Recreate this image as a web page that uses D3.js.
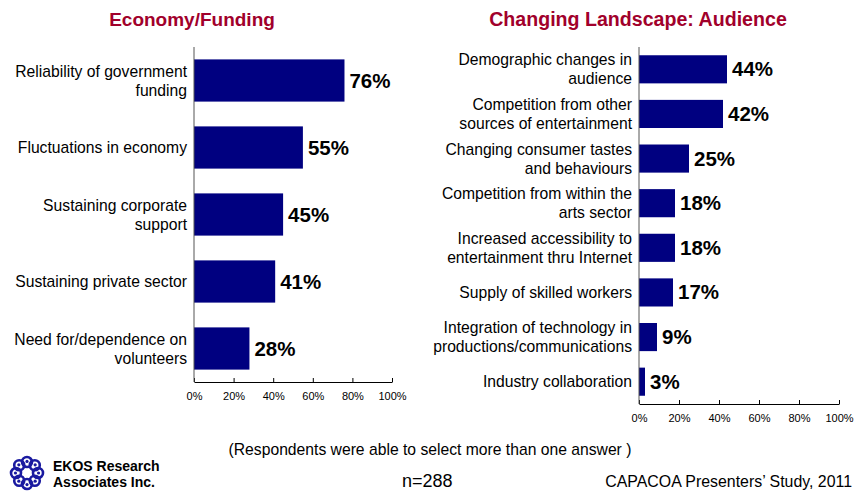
<!DOCTYPE html>
<meta charset="utf-8">
<style>
  html, body { margin:0; padding:0; overflow:hidden; background:#fff }
  text { font-family: "Liberation Sans", Arial, sans-serif; }
</style>
<svg id="mainsvg" width="854" height="492"></svg>
<script src="https://cdn.jsdelivr.net/npm/d3@7"></script>
<script>

// left panel
var econCats = ["Reliability of government|funding", "Fluctuations in economy", "Sustaining corporate|support", "Sustaining private sector", "Need for/dependence on|volunteers"];
var econVals = [76, 55, 45, 41, 28];

// right panel
var audCats = ["Demographic changes in|audience", "Competition from other|sources of entertainment", "Changing consumer tastes|and behaviours", "Competition from within the|arts sector", "Increased accessibility to|entertainment thru Internet", "Supply of skilled workers", "Integration of technology in|productions/communications", "Industry collaboration"];
var audVals = [44, 42, 25, 18, 18, 17, 9, 3];

var tickVals = [0, 20, 40, 60, 80, 100];

var svg = d3.select("#mainsvg");

function drawPanel(title, titleX, titleSize, cats, vals, x0, x1, y0, y1) {
    var x = d3.scaleLinear().domain([0, 100]).range([x0, x1]);
    var y = d3.scaleBand().domain(cats).range([y0, y1]).paddingInner(0.37).paddingOuter(0.185);

    var g = svg.append("g");

    g.append("text")
        .attr("x", titleX).attr("y", 26)
        .attr("text-anchor", "middle")
        .style("font-size", titleSize).style("font-weight", "bold")
        .attr("fill", "#a1002b")
        .text(title);

    g.selectAll("rect.bar").data(vals).enter().append("rect")
        .attr("class", "bar")
        .attr("x", x(0))
        .attr("y", function(d, i) { return y(cats[i]); })
        .attr("width", function(d) { return x(d) - x(0); })
        .attr("height", y.bandwidth())
        .attr("fill", "#000080");

    g.selectAll("text.val").data(vals).enter().append("text")
        .attr("class", "val")
        .attr("x", function(d) { return x(d) + 5; })
        .attr("y", function(d, i) { return y(cats[i]) + y.bandwidth() / 2 + 7; })
        .style("font-size", "20.5px").style("font-weight", "bold")
        .attr("fill", "#000")
        .text(function(d) { return d + "%"; });

    // category labels, split on |
    cats.forEach(function(c) {
        var lines = c.split("|");
        var cy = y(c) + y.bandwidth() / 2;
        var t = g.append("text")
            .attr("text-anchor", "end")
            .style("font-size", "15.7px")
            .attr("fill", "#000");
        lines.forEach(function(l, k) {
            t.append("tspan")
                .attr("x", x0 - 7)
                .attr("y", cy + 5.5 + (k - (lines.length - 1) / 2) * 19)
                .text(l);
        });
    });

    // axes
    var ax = g.append("g")
        .attr("transform", "translate(0," + y1 + ")")
        .call(d3.axisBottom(x).tickValues(tickVals).tickFormat(function(d) { return d + "%"; })
              .tickSize(-4).tickSizeOuter(0).tickPadding(10));
    ax.select(".domain").attr("stroke", "#000");
    ax.selectAll(".tick line").attr("stroke", "#000");
    ax.selectAll(".tick text").style("font-size", "11px").attr("fill", "#000")
        .style("font-family", "Liberation Sans, Arial, sans-serif");

    g.append("line")
        .attr("x1", x0).attr("x2", x0)
        .attr("y1", y0).attr("y2", y1)
        .attr("stroke", "#555").attr("stroke-width", 1);
}

drawPanel("Economy/Funding", 192, "19px", econCats, econVals, 194, 392, 47, 382);
drawPanel("Changing Landscape: Audience", 638, "19.6px", audCats, audVals, 639, 839, 47, 404);

// footer
svg.append("text").attr("x", 430).attr("y", 455).attr("text-anchor", "middle")
    .style("font-size", "15.7px").text("(Respondents were able to select more than one answer )");
svg.append("text").attr("x", 402).attr("y", 487)
    .style("font-size", "18px").text("n=288");
svg.append("text").attr("x", 852).attr("y", 487).attr("text-anchor", "end")
    .style("font-size", "15.9px").text("CAPACOA Presenters\u2019 Study, 2011");

// logo
var logo = svg.append("g").attr("transform", "translate(27,473)");
d3.range(8).forEach(function(i) {
    var a = i * Math.PI / 4;
    var cx = Math.cos(a) * 11, cy = Math.sin(a) * 11;
    logo.append("circle").attr("cx", cx).attr("cy", cy).attr("r", 5)
        .attr("fill", "none").attr("stroke", "#1a1aa0").attr("stroke-width", 2.6);
    logo.append("circle").attr("cx", cx * 1.05).attr("cy", cy * 1.05).attr("r", 1.6)
        .attr("fill", "#1a1aa0");
});
svg.append("text").attr("x", 53).attr("y", 471)
    .style("font-size", "14px").style("font-weight", "bold").text("EKOS Research");
svg.append("text").attr("x", 53).attr("y", 487)
    .style("font-size", "14px").style("font-weight", "bold").text("Associates Inc.");

</script>
